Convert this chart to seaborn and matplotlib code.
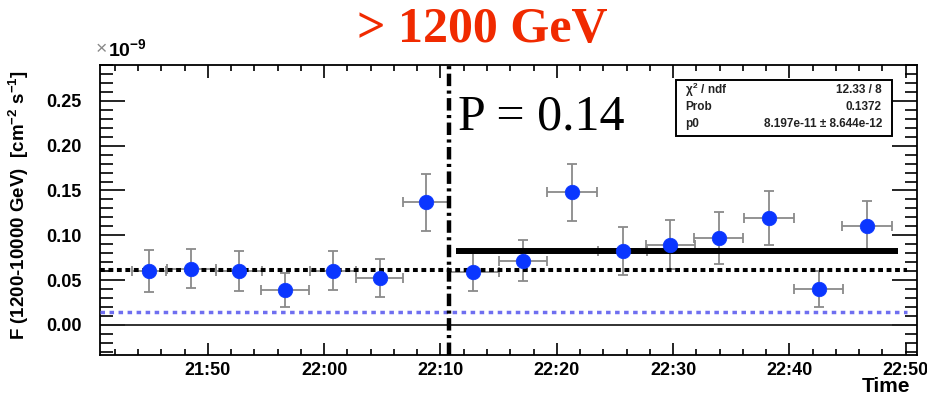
import numpy as np
import pandas as pd
import matplotlib
matplotlib.use("Agg")
import matplotlib.pyplot as plt
from matplotlib.ticker import MultipleLocator, FuncFormatter
from matplotlib.patches import Rectangle
import seaborn as sns

# ---------------- data (flux in units of 1e-9 cm^-2 s^-1) ----------------
times = ["21:44:57", "21:48:34", "21:52:41", "21:56:39", "22:00:48", "22:04:46",
         "22:08:44", "22:12:50", "22:17:05", "22:21:21", "22:25:39", "22:29:45",
         "22:33:56", "22:38:14", "22:42:32", "22:46:40"]
flux = [0.0605, 0.0627, 0.0605, 0.0392, 0.0605, 0.0523, 0.137, 0.0586,
        0.0717, 0.148, 0.0821, 0.0896, 0.0971, 0.1195, 0.040, 0.110]
flux_err = [0.0235, 0.0218, 0.0224, 0.019, 0.0218, 0.0213, 0.0317, 0.0213,
            0.023, 0.032, 0.0269, 0.0269, 0.0286, 0.0302, 0.0202, 0.0283]
time_halfwidth_min = [1.5, 2.1, 1.95, 2.05, 1.98, 2.0, 1.98, 2.2,
                      2.05, 2.15, 2.1, 2.1, 2.1, 2.15, 2.1, 2.15]

mean_before = 0.0616          # black dotted
baseline_level = 0.0149       # blue dotted
fit_p0 = 0.08197              # fitted constant (8.197e-11)
split_time = "22:10:46"
fit_start, fit_end = "22:11:21", "22:49:21"
lines_end = "22:50:06"
xlim_times = ("21:40:44", "22:50:58")
ylim = (-0.0336, 0.290)

title = "> 1200 GeV"
p_text = "P = 0.14"
stats_rows = [(r"$\chi^{2}$ / ndf", "12.33 / 8"),
              ("Prob", "0.1372"),
              ("p0", "8.197e-11 \u00b1 8.644e-12")]


def to_min(s):
    h, m, sec = (int(v) for v in s.split(":"))
    return (h - 21) * 60 + m + sec / 60.0


df = pd.DataFrame({"t": [to_min(s) for s in times], "flux": flux,
                   "ferr": flux_err, "terr": time_halfwidth_min})

# ---------------- style ----------------
sns.set_style("ticks")
plt.rcParams["font.family"] = ["Liberation Sans", "DejaVu Sans"]
plt.rcParams["mathtext.fontset"] = "custom"
plt.rcParams["mathtext.rm"] = "Liberation Sans:bold"
plt.rcParams["mathtext.it"] = "Liberation Sans:bold"
plt.rcParams["mathtext.bf"] = "Liberation Sans:bold"
plt.rcParams["text.color"] = "black"
plt.rcParams["xtick.color"] = "black"
plt.rcParams["ytick.color"] = "black"
plt.rcParams["xtick.labelcolor"] = "black"
plt.rcParams["ytick.labelcolor"] = "black"

fig = plt.figure(figsize=(9.28, 4.01), dpi=100)
ax = fig.add_axes([100 / 928, 1 - 355 / 401, 817 / 928, 290 / 401])

# error bars
ax.errorbar(df["t"], df["flux"], xerr=df["terr"], yerr=df["ferr"], fmt="none",
            ecolor="#8a8a8a", elinewidth=1.3, capsize=3.5, capthick=1.3, zorder=2)

x0, x1 = to_min(xlim_times[0]), to_min(xlim_times[1])
# zero line
ax.axhline(0.0, color="#222222", lw=1.3, zorder=1)
# baseline (blue dotted)
ax.hlines(baseline_level, x0, to_min(lines_end), color="#6f6ff0", lw=2.5,
          linestyle=(0, (1.3, 1.3)), zorder=3)
# mean before flare (black dotted)
ax.hlines(mean_before, x0, to_min(lines_end), color="black", lw=2.9,
          linestyle=(0, (1.2, 0.9)), zorder=3)
# fit line
ax.hlines(fit_p0, to_min(fit_start), to_min(fit_end), color="black", lw=4.3, zorder=3)

# points
sns.scatterplot(data=df, x="t", y="flux", ax=ax, color="#0a36ff", s=110,
                marker="o", edgecolor="#0a36ff", linewidth=0.5, zorder=4, legend=False)

# vertical dash-dot line
ax.axvline(to_min(split_time), color="black", lw=3.2,
           linestyle=(0, (2.8, 1.0, 0.7, 1.0)), zorder=5)

ax.set_xlim(x0, x1)
ax.set_ylim(*ylim)
ax.set_xlabel("")
ax.set_ylabel("")

ax.xaxis.set_major_locator(MultipleLocator(10))
ax.xaxis.set_minor_locator(MultipleLocator(2))
ax.xaxis.set_major_formatter(FuncFormatter(
    lambda v, p: f"{21 + int(round(v)) // 60:02d}:{int(round(v)) % 60:02d}"))
ax.yaxis.set_major_locator(MultipleLocator(0.05))
ax.yaxis.set_minor_locator(MultipleLocator(0.01))
ax.yaxis.set_major_formatter(FuncFormatter(lambda v, p: f"{v:.2f}"))

ax.tick_params(axis="both", which="both", direction="in", top=True, right=True,
               width=1.2, color="black", labelcolor="black")
ax.tick_params(axis="y", which="major", length=18, pad=13, labelsize=13)
ax.tick_params(axis="y", which="minor", length=9)
ax.tick_params(axis="x", which="major", length=9, pad=5, labelsize=13)
ax.tick_params(axis="x", which="minor", length=4.5)
for lab in ax.get_xticklabels() + ax.get_yticklabels():
    lab.set_fontweight("bold")
for sp in ax.spines.values():
    sp.set_linewidth(1.3)
    sp.set_color("black")

# texts
fig.text(482 / 928, 1 - 30 / 401, title, color="#f02a00", fontsize=36,
         fontweight="bold", family="Liberation Serif", ha="center", va="center")
fig.text(458 / 928, 1 - 117 / 401, p_text, fontsize=36, family="Liberation Serif",
         ha="left", va="center", color="black", zorder=6)
fig.text(19 / 928, 1 - 205 / 401,
         r"F (1200-10000 GeV)  [cm$^{-2}$ s$^{-1}$]", rotation=90,
         fontsize=13.5, fontweight="bold", ha="center", va="center")
fig.text(96 / 928, 1 - 50 / 401, "\u00d7", color="#888888", fontsize=14,
         ha="left", va="center")
fig.text(108 / 928, 1 - 49 / 401, r"10$^{-9}$", fontsize=14, fontweight="bold",
         ha="left", va="center")
fig.text(910 / 928, 1 - 386 / 401, "Time", fontsize=15, fontweight="bold",
         ha="right", va="center")

# stats box
bx0, bx1, by0, by1 = 675.7, 892.3, 80, 135.7
fig.patches.append(Rectangle((bx0 / 928, 1 - by1 / 401), (bx1 - bx0) / 928,
                             (by1 - by0) / 401, transform=fig.transFigure,
                             facecolor="white", edgecolor="black", lw=1.4, zorder=10))
for (lab, val), yy in zip(stats_rows, [90, 107, 124]):
    fig.text(685 / 928, 1 - yy / 401, lab, fontsize=8.5, fontweight="bold",
             color="#222222", ha="left", va="center", zorder=11)
    fig.text(882 / 928, 1 - yy / 401, val, fontsize=8.5, fontweight="bold",
             color="#222222", ha="right", va="center", zorder=11)

fig.savefig("out.png", dpi=100)
